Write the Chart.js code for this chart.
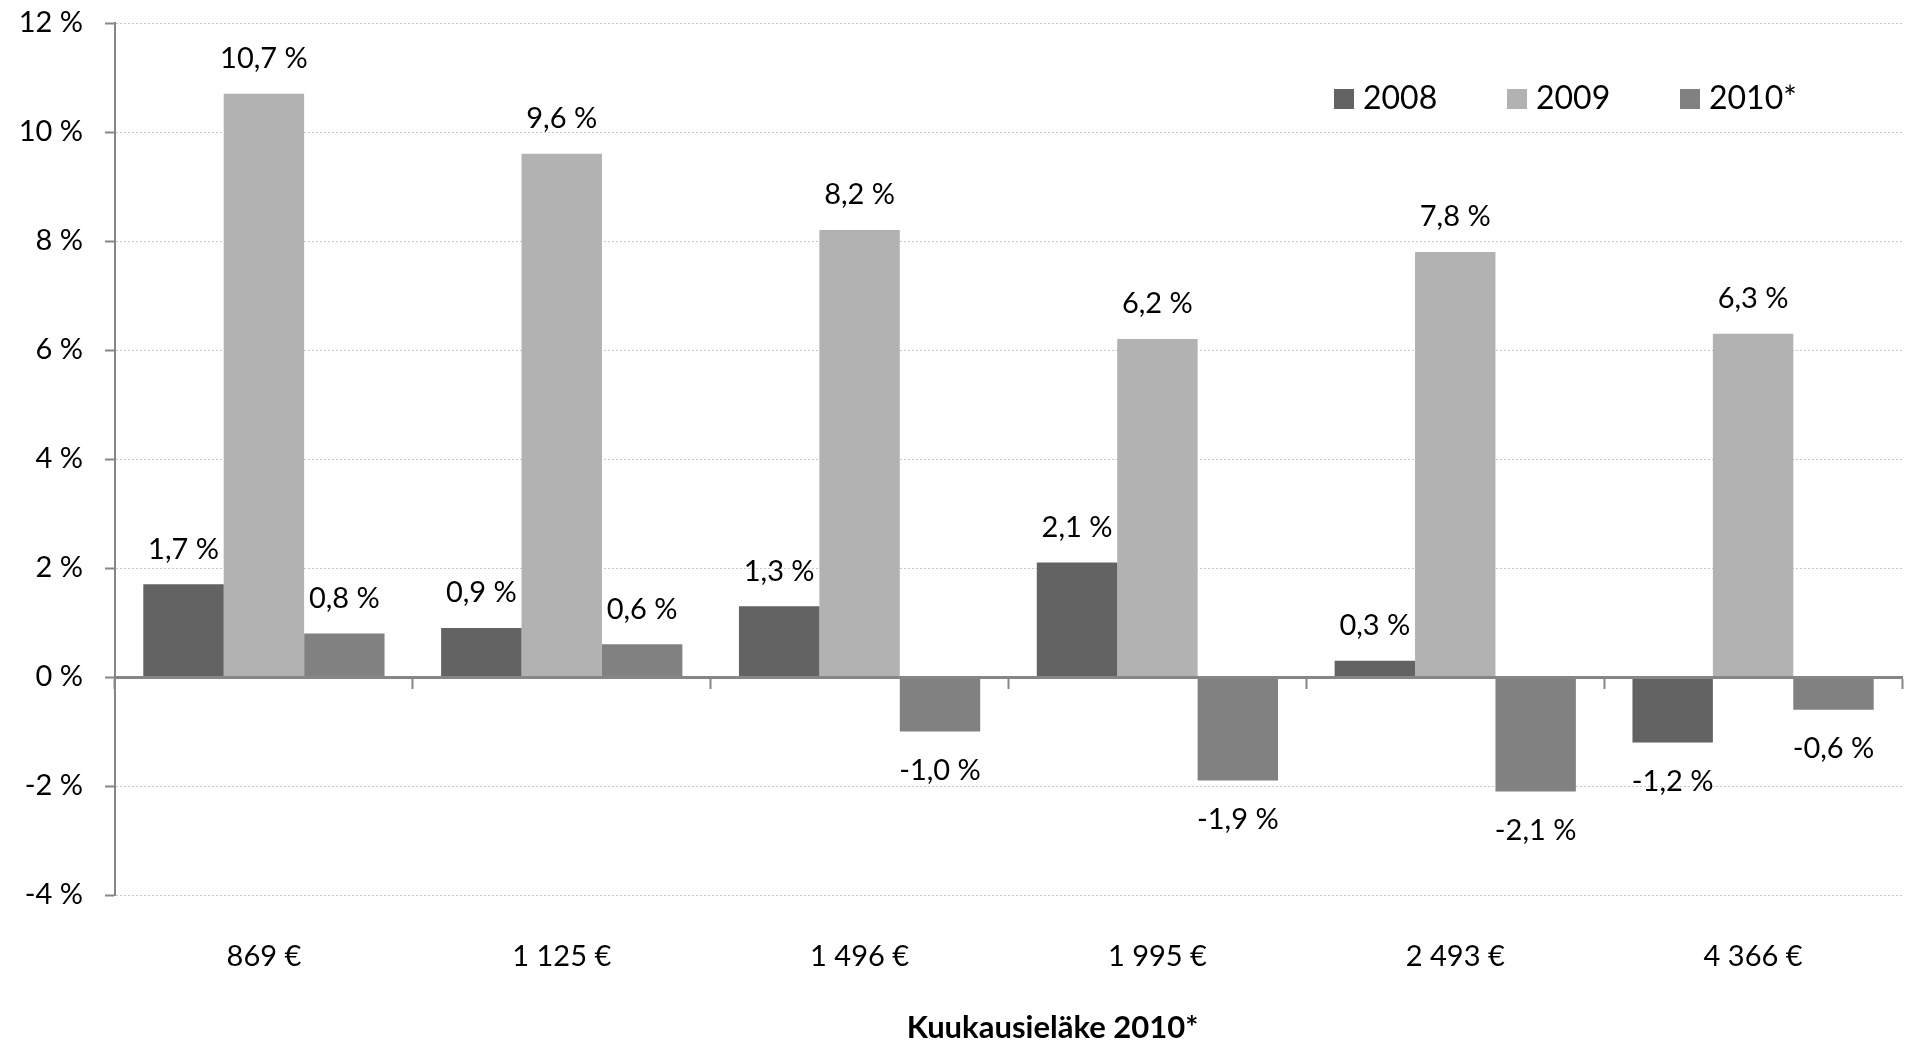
<!DOCTYPE html>
<html>
<head>
<meta charset="utf-8">
<script src="https://cdn.jsdelivr.net/npm/chart.js@4.4.0/dist/chart.umd.min.js"></script>
<style>
  html, body { margin: 0; padding: 0; background: #fff; }
  #wrap { width: 1907px; height: 1042px; }
</style>
</head>
<body>
<div id="wrap"><canvas id="chart" width="1907" height="1042"></canvas></div>
<script>
// chart data
var categories = ["869 €", "1 125 €", "1 496 €", "1 995 €", "2 493 €", "4 366 €"];
var seriesNames = ["2008", "2009", "2010*"];
var values2008 = [1.7, 0.9, 1.3, 2.1, 0.3, -1.2];
var values2009 = [10.7, 9.6, 8.2, 6.2, 7.8, 6.3];
var values2010 = [0.8, 0.6, -1.0, -1.9, -2.1, -0.6];
var yTicks = [-4, -2, 0, 2, 4, 6, 8, 10, 12];
var axisTitle = "Kuukausieläke 2010*";

var colors = ["#636363", "#b2b2b2", "#818181"];
var FONT = "Lato, 'Open Sans', sans-serif";
var FS = 29;
var axisGrey = "#868686";

function fmt(v) {
  return v.toFixed(1).replace(".", ",") + " %";
}

// value labels above / below bars
var barLabels = {
  id: "barLabels",
  afterDatasetsDraw: function (chart) {
    var ctx = chart.ctx;
    ctx.save();
    ctx.font = FS + "px " + FONT;
    ctx.fillStyle = "#000";
    ctx.textAlign = "center";
    ctx.textBaseline = "middle";
    chart.data.datasets.forEach(function (ds, i) {
      chart.getDatasetMeta(i).data.forEach(function (bar, j) {
        var v = ds.data[j];
        var y = v >= 0 ? bar.y - 35 : bar.y + 39;
        ctx.fillText(fmt(v), bar.x, y);
      });
    });
    ctx.restore();
  }
};

// legend inside plot, top right, plus axis title
var extras = {
  id: "extras",
  afterDraw: function (chart) {
    var ctx = chart.ctx;
    var area = chart.chartArea;
    ctx.save();
    ctx.font = (FS + 3) + "px " + FONT;
    ctx.textBaseline = "middle";
    ctx.textAlign = "left";
    var x0 = area.right - 568;
    var yc = area.top + 76;
    chart.data.datasets.forEach(function (ds, i) {
      var x = x0 + i * 173;
      ctx.fillStyle = ds.backgroundColor;
      ctx.fillRect(x, yc - 10, 20, 20);
      ctx.fillStyle = "#000";
      ctx.fillText(ds.label, x + 29, yc);
    });
    ctx.font = "bold " + (FS + 2) + "px " + FONT;
    ctx.textAlign = "center";
    ctx.fillText(axisTitle, (area.left + area.right) / 2 + 44, chart.height - 14);
    ctx.restore();
  }
};

var ctx = document.getElementById("chart").getContext("2d");
var myChart = new Chart(ctx, {
  type: "bar",
  data: {
    labels: categories,
    datasets: [
      { label: seriesNames[0], data: values2008, backgroundColor: colors[0] },
      { label: seriesNames[1], data: values2009, backgroundColor: colors[1] },
      { label: seriesNames[2], data: values2010, backgroundColor: colors[2] }
    ]
  },
  options: {
    responsive: false,
    animation: false,
    categoryPercentage: 0.81,
    barPercentage: 1,
    layout: { padding: { top: 23, right: 5, left: 0, bottom: 0 } },
    plugins: {
      legend: { display: false },
      tooltip: { enabled: false }
    },
    scales: {
      x: {
        position: "bottom",
        grid: { display: false },
        border: { display: false },
        ticks: {
          color: "#000",
          font: { family: FONT, size: FS },
          padding: 36,
          maxRotation: 0
        },
        afterFit: function (scale) {
          scale.height = 147;
          scale.paddingLeft = 0;
          scale.paddingRight = 0;
        }
      },
      x2: {
        type: "category",
        labels: categories,
        position: { y: 0 },
        offset: true,
        grid: {
          offset: true,
          drawOnChartArea: false,
          drawTicks: true,
          tickLength: 10,
          tickWidth: 2,
          tickColor: axisGrey
        },
        border: { display: true, color: axisGrey, width: 3, z: 1 },
        ticks: { display: false }
      },
      y: {
        min: -4,
        max: 12,
        afterBuildTicks: function (scale) {
          scale.ticks = yTicks.map(function (v) { return { value: v }; });
        },
        grid: {
          color: function (c) { return c.tick && c.tick.value === 0 ? "rgba(0,0,0,0)" : "#c8c8c8"; },
          lineWidth: 1,
          tickLength: 10,
          tickColor: axisGrey,
          tickWidth: 2
        },
        border: { display: true, color: axisGrey, width: 2, dash: [2, 2] },
        ticks: {
          color: "#000",
          font: { family: FONT, size: FS },
          padding: 22,
          callback: function (v) { return v + " %"; }
        },
        afterFit: function (scale) {
          scale.width = 115;
          scale.paddingTop = 0;
          scale.paddingBottom = 0;
        }
      }
    }
  },
  plugins: [barLabels, extras]
});
</script>
</body>
</html>
